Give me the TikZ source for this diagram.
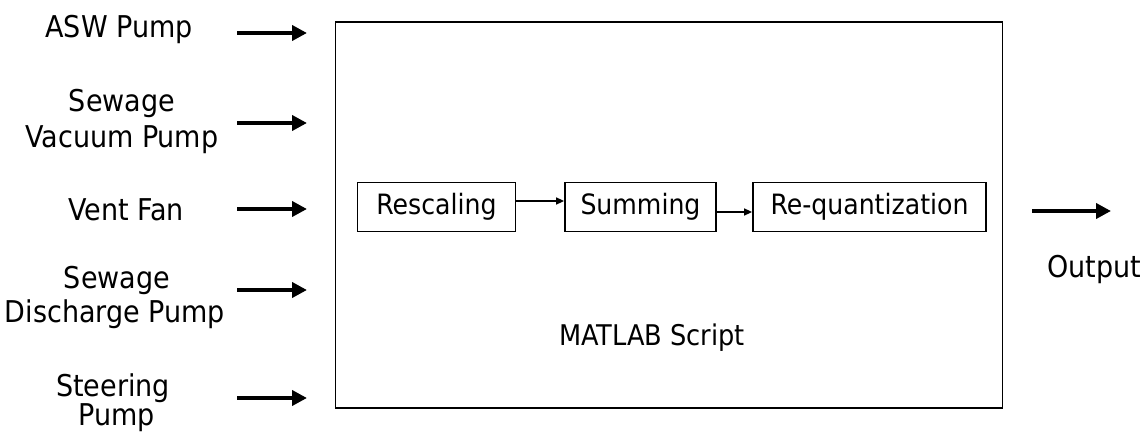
\documentclass[tikz,border=0pt]{standalone}
\usepackage{fontspec}
\setmainfont{DejaVu Sans Condensed}
\usetikzlibrary{arrows.meta}
\begin{document}
\begin{tikzpicture}[x=1pt,y=-1pt,
  lbl/.style={font=\fontsize{30}{35}\selectfont, anchor=base, inner sep=0pt},
  inbox/.style={draw, line width=1.8pt, font=\fontsize{28}{32}\selectfont, minimum height=49pt, inner sep=0pt},
  bigarrow/.style={line width=4.5pt, -{Triangle[length=15pt,width=15pt]}},
  smallarrow/.style={line width=1.5pt, -{Triangle[length=8pt,width=7pt]}}]
\useasboundingbox (0,0) rectangle (1146,433);
\node[draw, line width=1.8pt, minimum width=667pt, minimum height=386pt, inner sep=0pt] (main) at (669,215) {};
% labels
\node[lbl] (l1) at (119,38) {ASW Pump};
\node[lbl] (l2a) at (122,112) {Sewage};
\node[lbl] (l2b) at (122,147) {Vacuum Pump};
\node[lbl] (l3) at (126,220) {Vent Fan};
\node[lbl] (l4a) at (117,288) {Sewage};
\node[lbl] (l4b) at (115,322) {Discharge Pump};
\node[lbl] (l5a) at (113,396) {Steering};
\node[lbl] (l5b) at (117,425) {Pump};
% input arrows
\coordinate (a1s) at (237,33);  \coordinate (a1e) at (307,33);
\coordinate (a2s) at (237,123); \coordinate (a2e) at (307,123);
\coordinate (a3s) at (237,209); \coordinate (a3e) at (307,209);
\coordinate (a4s) at (237,290); \coordinate (a4e) at (307,290);
\coordinate (a5s) at (237,398); \coordinate (a5e) at (307,398);
\foreach \i in {1,...,5} {\draw[bigarrow] (a\i s) -- (a\i e);}
% inner boxes
\node[inbox, minimum width=158pt] (resc) at (436.5,207) {Rescaling};
\node[inbox, minimum width=151pt] (sum) at (640.5,207) {Summing};
\node[inbox, minimum width=233pt] (req) at (869.5,207) {Re-quantization};
\draw[smallarrow] (resc.east |- 0,201) -- (sum.west |- 0,201);
\draw[smallarrow] (sum.east |- 0,212) -- (req.west |- 0,212);
\node[font=\fontsize{28.5}{32}\selectfont, anchor=base, inner sep=0pt] (ms) at (652,345) {MATLAB Script};
% output
\coordinate (os) at (1032,211); \coordinate (oe) at (1111,211);
\draw[bigarrow] (os) -- (oe);
\node[lbl] (out) at (1094,277) {Output};
\end{tikzpicture}
\end{document}
